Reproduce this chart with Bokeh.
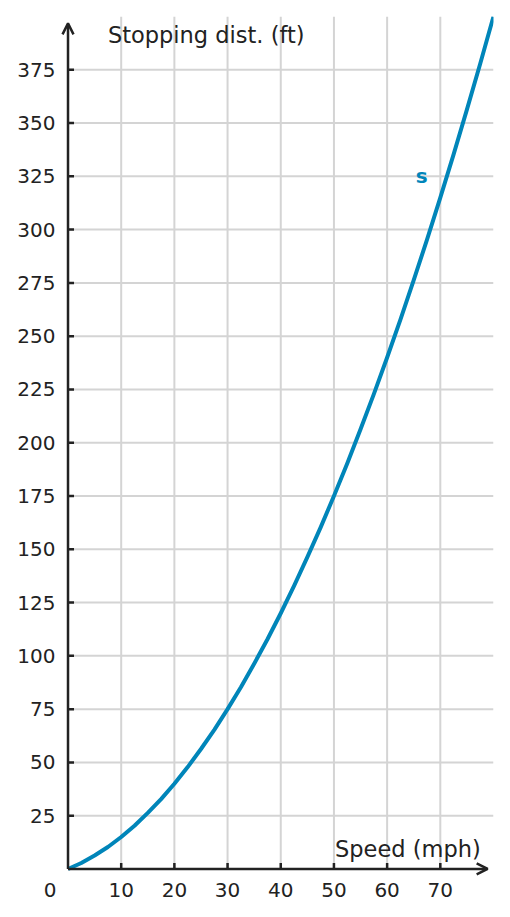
from bokeh.plotting import figure
from bokeh.models import FixedTicker, Label, Arrow, OpenHead, ColumnDataSource
from bokeh.embed import file_html
from bokeh.resources import INLINE

# data
speed_mph = [0, 2.5, 5, 7.5, 10, 12.5, 15, 17.5, 20, 22.5, 25, 27.5, 30, 32.5,
             35, 37.5, 40, 42.5, 45, 47.5, 50, 52.5, 55, 57.5, 60, 62.5, 65,
             67.5, 70, 72.5, 75, 77.5, 80]
stop_ft = [0, 2.8, 6.3, 10.3, 15, 20.3, 26.3, 32.8, 40, 47.8, 56.3, 65.3, 75,
           85.3, 96.3, 107.8, 120, 132.8, 146.3, 160.3, 175, 190.3, 206.3,
           222.8, 240, 257.8, 276.3, 295.3, 315, 335.3, 356.3, 377.8, 400]
x_ticks = [10, 20, 30, 40, 50, 60, 70]
y_ticks = [25, 50, 75, 100, 125, 150, 175, 200, 225, 250, 275, 300, 325, 350, 375]
x_max, y_max = 80, 400

FONT = "DejaVu Sans"
TXT = "#222222"
BLUE = "#0085b9"
GRID = "#d4d4d4"
NB = "\u00a0"

p = figure(frame_width=434, frame_height=861, x_range=(-1.6, x_max), y_range=(-4, y_max),
           output_backend="svg", toolbar_location=None,
           min_border_left=59, min_border_top=16, min_border_right=10,
           min_border_bottom=30)
p.outline_line_color = None
p.background_fill_color = "white"
p.xgrid.visible = False
p.ygrid.visible = False

for ax in (p.xaxis, p.yaxis):
    ax.axis_line_color = None
    ax.major_tick_line_color = None
    ax.minor_tick_line_color = None
    ax.major_tick_in = 0
    ax.major_tick_out = 0
    ax.major_label_text_font = FONT
    ax.major_label_text_font_size = "20px"
    ax.major_label_text_color = TXT

p.xaxis.ticker = FixedTicker(ticks=[0] + x_ticks)
p.xaxis.major_label_overrides = {0: "0" + NB * 5 + "\u2009"}
p.yaxis.ticker = FixedTicker(ticks=y_ticks)
p.xaxis.major_label_standoff = 0
p.yaxis.major_label_standoff = 4

# grid lines (from the axes to the plot edges)
p.segment(x0=0, y0=y_ticks, x1=x_max, y1=y_ticks, line_color=GRID, line_width=2)
p.segment(x0=x_ticks, y0=0, x1=x_ticks, y1=y_max, line_color=GRID, line_width=2)

# inner tick marks
p.ray(x=0, y=y_ticks, length=6, angle=0, length_units="screen",
      line_color=TXT, line_width=2.5)
p.ray(x=x_ticks, y=0, length=6, angle=1.5707963, length_units="screen",
      line_color=TXT, line_width=2.5)

src = ColumnDataSource(dict(x=speed_mph, y=stop_ft))
p.line("x", "y", source=src, line_color=BLUE, line_width=4, line_join="round")

# axes with arrows
p.add_layout(Arrow(end=OpenHead(size=11, line_width=2.5, line_color=TXT),
                   x_start=0, y_start=0, x_end=0, y_end=396.8,
                   line_color=TXT, line_width=2.5))
p.add_layout(Arrow(end=OpenHead(size=11, line_width=2.5, line_color=TXT),
                   x_start=0, y_start=0, x_end=78.9, y_end=0,
                   line_color=TXT, line_width=2.5))

p.add_layout(Label(x=7.5, y=391.3, text="Stopping dist. (ft)", text_font=FONT,
                   text_font_size="22.5px", text_color=TXT,
                   text_align="left", text_baseline="middle"))
p.add_layout(Label(x=77.6, y=9.4, text="Speed (mph)", text_font=FONT,
                   text_font_size="22.5px", text_color=TXT,
                   text_align="right", text_baseline="middle"))
p.add_layout(Label(x=66.5, y=325, text="s", text_font=FONT,
                   text_font_size="20px", text_font_style="bold", text_color=BLUE,
                   text_align="center", text_baseline="middle"))

open("out.html", "w").write(file_html(p, INLINE))
